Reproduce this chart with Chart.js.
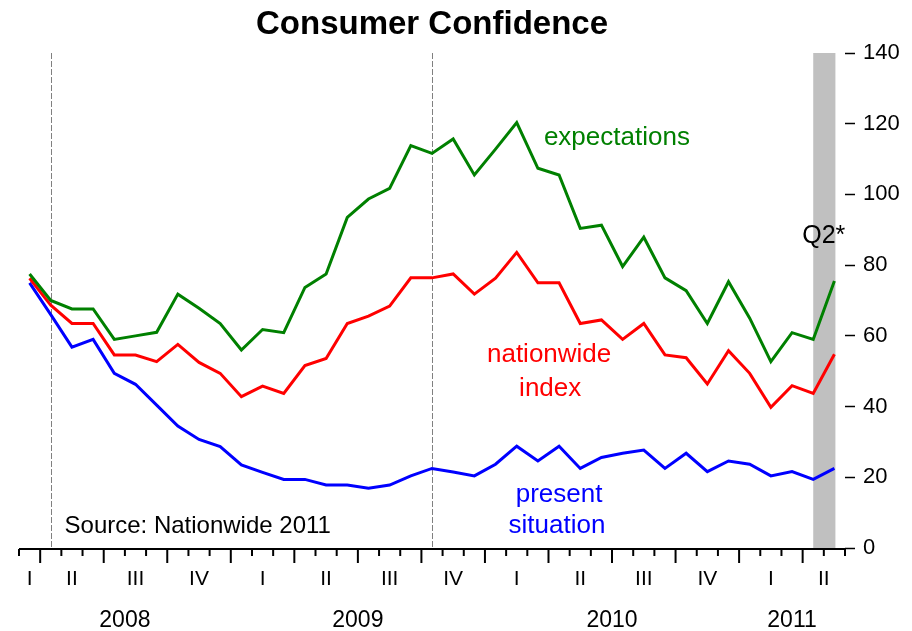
<!DOCTYPE html>
<html>
<head>
<meta charset="utf-8">
<title>Consumer Confidence</title>
<script src="https://cdn.jsdelivr.net/npm/chart.js@4.4.1/dist/chart.umd.min.js"></script>
<style>
  html, body { margin: 0; padding: 0; background: #fff; }
  #wrap { width: 912px; height: 631px; position: relative; }
</style>
</head>
<body>
<div id="wrap"><canvas id="chart"></canvas></div>
<script>
// Monthly readings, Mar 2008 - May 2011
const months = [
    '2008-03', '2008-04', '2008-05', '2008-06', '2008-07', '2008-08', '2008-09', '2008-10', '2008-11', '2008-12',
    '2009-01', '2009-02', '2009-03', '2009-04', '2009-05', '2009-06', '2009-07', '2009-08', '2009-09', '2009-10', '2009-11', '2009-12',
    '2010-01', '2010-02', '2010-03', '2010-04', '2010-05', '2010-06', '2010-07', '2010-08', '2010-09', '2010-10', '2010-11', '2010-12',
    '2011-01', '2011-02', '2011-03', '2011-04', '2011-05'
];
const expectations = [
    77.5, 70, 67.6, 67.6, 59, 60, 61, 71.8, 67.8, 63.5,
    56, 61.8, 60.9, 73.7, 77.5, 93.5, 98.7, 101.7, 113.8, 111.6, 115.7, 105.5,
    112.8, 120.3, 107.4, 105.5, 90.4, 91.3, 79.6, 87.9, 76.4, 72.8, 63.5, 75.3,
    65, 52.7, 60.9, 59, 75.5
];
const nationwideIndex = [
    76.3, 68.7, 63.5, 63.5, 54.6, 54.6, 52.7, 57.6, 52.5, 49.4,
    42.8, 45.8, 43.7, 51.6, 53.6, 63.5, 65.6, 68.4, 76.4, 76.4, 77.5, 71.8,
    76.3, 83.6, 75, 75, 63.5, 64.5, 59, 63.5, 54.6, 53.8, 46.4, 55.8,
    49.4, 39.8, 45.9, 43.7, 54.8
];
const presentSituation = [
    75, 66, 56.8, 59, 49.4, 46.3, 40.4, 34.5, 30.7, 28.7,
    23.5, 21.4, 19.4, 19.4, 17.8, 17.8, 16.9, 17.8, 20.4, 22.5, 21.5, 20.4,
    23.7, 28.8, 24.6, 28.8, 22.5, 25.6, 26.8, 27.7, 22.5, 26.8, 21.6, 24.6,
    23.7, 20.4, 21.6, 19.4, 22.5
];
const quarterNames = ['I', 'II', 'III', 'IV'];
const yearLabels = ['2008', '2009', '2010', '2011'];
const markerMonths = ['2008-04', '2009-10'];   // dashed verticals
const shadedMonths = ['2011-04', '2011-05'];   // Q2* band

const FONT = "'Liberation Sans', Arial, sans-serif";

function monthOf(label) {
    return parseInt(label.split('-')[1], 10);
}

// group consecutive month indexes by a key (quarter or year)
function groupBy(keyFn) {
    const groups = [];
    months.forEach((m, i) => {
        const key = keyFn(m);
        const last = groups[groups.length - 1];
        if (last && last.key === key) {
            last.end = i;
        } else {
            groups.push({ key: key, start: i, end: i });
        }
    });
    return groups;
}

function drawText(ctx, str, px, py, size, color, align) {
    ctx.font = size + 'px ' + FONT;
    ctx.fillStyle = color;
    ctx.textAlign = align || 'center';
    ctx.textBaseline = 'alphabetic';
    ctx.fillText(str, px, py);
}

const overlayPlugin = {
    id: 'overlay',
    beforeDatasetsDraw(chart) {
        const { ctx, chartArea: a, scales: { x } } = chart;
        ctx.save();
        // shaded Q2* band
        const s0 = x.getPixelForValue(months.indexOf(shadedMonths[0]));
        const s1 = x.getPixelForValue(months.indexOf(shadedMonths[1]));
        ctx.fillStyle = '#c0c0c0';
        ctx.fillRect(s0, a.top, s1 - s0 + 1, a.bottom - a.top);

        // dashed marker lines
        ctx.strokeStyle = '#808080';
        ctx.lineWidth = 1;
        ctx.setLineDash([6, 2]);
        markerMonths.forEach(m => {
            const px = Math.round(x.getPixelForValue(months.indexOf(m))) + 0.5;
            ctx.beginPath();
            ctx.moveTo(px, a.top);
            ctx.lineTo(px, a.bottom);
            ctx.stroke();
        });
        ctx.restore();
    },
    afterDraw(chart) {
        const { ctx, chartArea: a, scales: { x, y } } = chart;
        ctx.save();

        // bottom axis line
        const axisY = a.bottom + 1;
        ctx.strokeStyle = '#000';
        ctx.lineWidth = 2;
        ctx.beginPath();
        ctx.moveTo(a.left, axisY);
        ctx.lineTo(a.right, axisY);
        ctx.stroke();

        // month ticks, longer at quarter boundaries
        for (let b = -0.5; b <= months.length - 0.5; b += 1) {
            const next = months[b + 0.5];
            const isQuarter = next && b > -0.5 && (monthOf(next) - 1) % 3 === 0;
            const px = x.getPixelForValue(b);
            ctx.beginPath();
            ctx.moveTo(px, axisY);
            ctx.lineTo(px, axisY + (isQuarter ? 14 : 7));
            ctx.stroke();
        }

        // quarter labels
        groupBy(m => m.slice(0, 4) + 'Q' + Math.floor((monthOf(m) - 1) / 3)).forEach(g => {
            const q = parseInt(g.key.split('Q')[1], 10);
            drawText(ctx, quarterNames[q], x.getPixelForValue((g.start + g.end) / 2), axisY + 36, 21, '#000');
        });

        // year labels
        groupBy(m => m.slice(0, 4)).forEach(g => {
            if (yearLabels.indexOf(g.key) < 0) return;
            drawText(ctx, g.key, x.getPixelForValue((g.start + g.end) / 2), axisY + 78, 23, '#000');
        });

        // series labels
        drawText(ctx, 'expectations', x.getPixelForValue(27.73), y.getPixelForValue(114.0), 26, '#008000');
        drawText(ctx, 'nationwide', x.getPixelForValue(24.53), y.getPixelForValue(52.5), 26, '#ff0000');
        drawText(ctx, 'index', x.getPixelForValue(24.58), y.getPixelForValue(43.1), 26, '#ff0000');
        drawText(ctx, 'present', x.getPixelForValue(25.0), y.getPixelForValue(13.1), 26, '#0000ff');
        drawText(ctx, 'situation', x.getPixelForValue(24.9), y.getPixelForValue(4.3), 26, '#0000ff');

        drawText(ctx, 'Source: Nationwide 2011', x.getPixelForValue(1.65), y.getPixelForValue(4.3), 24, '#000', 'left');
        drawText(ctx, 'Q2*', x.getPixelForValue(36.48), y.getPixelForValue(86.2), 25, '#000', 'left');

        ctx.restore();
    }
};

const lineStyle = {
    borderWidth: 3,
    pointRadius: 0,
    tension: 0,
    fill: false
};

new Chart(document.getElementById('chart').getContext('2d'), {
    type: 'line',
    data: {
        labels: months,
        datasets: [
            Object.assign({ label: 'expectations', data: expectations, borderColor: '#008000' }, lineStyle),
            Object.assign({ label: 'nationwide index', data: nationwideIndex, borderColor: '#ff0000' }, lineStyle),
            Object.assign({ label: 'present situation', data: presentSituation, borderColor: '#0000ff' }, lineStyle)
        ]
    },
    options: {
        responsive: true,
        maintainAspectRatio: false,
        animation: false,
        layout: { padding: { left: 19, right: 0, top: 0, bottom: 0 } },
        plugins: {
            legend: { display: false },
            tooltip: { enabled: false },
            title: {
                display: true,
                text: 'Consumer Confidence',
                fullSize: false,
                color: '#000',
                font: { family: FONT, size: 33, weight: 'bold' },
                padding: { top: 5, bottom: 8.4 }
            }
        },
        scales: {
            x: {
                type: 'category',
                offset: true,
                ticks: { display: false },
                grid: { display: false },
                border: { display: false },
                afterFit(scale) { scale.height = 83; }
            },
            y: {
                position: 'right',
                min: 0,
                max: 140,
                ticks: {
                    stepSize: 20,
                    padding: 8,
                    color: '#000',
                    font: { family: FONT, size: 22 }
                },
                grid: {
                    drawOnChartArea: false,
                    drawTicks: true,
                    tickLength: 10,
                    tickColor: '#000',
                    tickWidth: 1.5
                },
                border: { display: false },
                afterFit(scale) { scale.width = 67; }
            }
        }
    },
    plugins: [overlayPlugin]
});
</script>
</body>
</html>
